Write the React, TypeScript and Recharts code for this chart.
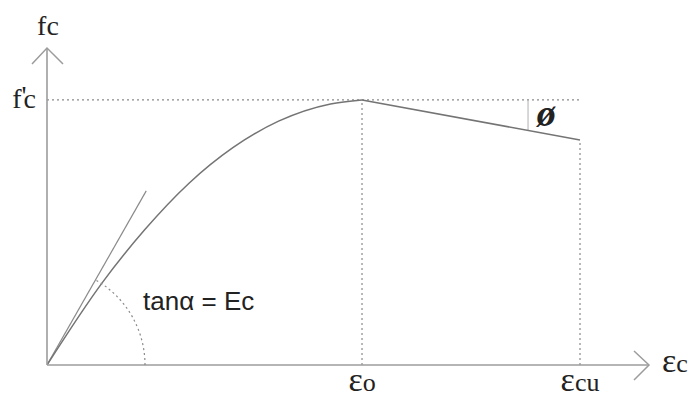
import React from 'react';
import { LineChart, Line, XAxis, YAxis, ReferenceLine, ReferenceDot } from 'recharts';

// concrete stress-strain curve, strain in per mille, stress normalised to f'c
const riseStrain = [0, 0.35, 0.62, 0.9, 1.18, 1.47, 1.8, 2.0];
const riseStress = [0, 0.31, 0.51, 0.685, 0.82, 0.92, 0.985, 1.0];
const fallStrain = [2.0, 3.384];
const fallStress = [1.0, 0.849];
const tangentStrain = [0, 0.63];
const tangentStress = [0, 0.657];

const strainTicks = [2.0, 3.384];
const strainTickLabels = ['o', 'cu'];
const stressTicks = [1];

const X_MAX = 3.822;
const Y_MAX = 1.196;

const SERIF = "'Liberation Serif', 'DejaVu Serif', serif";
const SANS = "'Liberation Sans', Arial, sans-serif";
const AXIS = '#9c9c9c';
const CURVE = '#747474';
const DOTS = '#8a8a8a';
const INK = '#222';

const toPoints = (xs: number[], ys: number[]) => xs.map((x, i) => ({ x, y: ys[i] }));

const riseData = toPoints(riseStrain, riseStress);
const fallData = toPoints(fallStrain, fallStress);
const tangentData = toPoints(tangentStrain, tangentStress);

const StrainTick = (props: any) => {
  const { x, y, payload } = props;
  const i = strainTicks.indexOf(payload.value);
  return (
    <text x={x} y={y + 26} textAnchor="middle" fontFamily={SERIF} fontSize={26} fill={INK}>
      <tspan fontSize={34}>ε</tspan>
      <tspan>{strainTickLabels[i]}</tspan>
    </text>
  );
};

const StressTick = (props: any) => {
  const { x, y } = props;
  return (
    <text x={x - 11} y={y + 8} textAnchor="end" fontFamily={SERIF} fontSize={28} fill={INK}>
      f<tspan dy={-3}>'</tspan>
      <tspan dx={-3} dy={3}>c</tspan>
    </text>
  );
};

// arrow head on the strain axis + its title
const XArrow = (props: any) => {
  const { cx, cy } = props;
  return (
    <g>
      <polyline
        points={`${cx - 15},${cy - 14} ${cx},${cy} ${cx - 15},${cy + 15}`}
        fill="none"
        stroke={AXIS}
        strokeWidth={1.5}
      />
      <text x={cx + 13} y={cy + 7} fontFamily={SERIF} fontSize={26} fill={INK}>
        <tspan fontSize={34}>ε</tspan>
        <tspan>c</tspan>
      </text>
    </g>
  );
};

// arrow head on the stress axis + its title
const YArrow = (props: any) => {
  const { cx, cy } = props;
  return (
    <g>
      <polyline
        points={`${cx - 15},${cy + 16} ${cx},${cy} ${cx + 16},${cy + 16}`}
        fill="none"
        stroke={AXIS}
        strokeWidth={1.5}
      />
      <text x={cx + 1} y={cy - 13} textAnchor="middle" fontFamily={SERIF} fontSize={28} fill={INK}>
        fc
      </text>
    </g>
  );
};

// dotted arc marking the initial tangent angle
const AngleArc = (props: any) => {
  const { cx, cy } = props;
  const r = 98;
  const a = (60 * Math.PI) / 180;
  return (
    <path
      d={`M ${cx + r} ${cy} A ${r} ${r} 0 0 0 ${cx + r * Math.cos(a)} ${cy - r * Math.sin(a)}`}
      fill="none"
      stroke={DOTS}
      strokeWidth={1.2}
      strokeDasharray="2 3"
    />
  );
};

const TextMark = (text: string, size: number, family: string, italic = false, weight = 'normal') => (props: any) => (
  <text
    x={props.cx}
    y={props.cy}
    fontFamily={family}
    fontSize={size}
    fontStyle={italic ? 'italic' : 'normal'}
    fontWeight={weight}
    fill={INK}
  >
    {text}
  </text>
);

const App = () => {
  return (
    <div style={{ position: 'absolute', left: 0, top: 0, width: 694, height: 396, background: '#fff' }}>
      <LineChart width={694} height={396} margin={{ top: 48, right: 45, bottom: 30, left: 46 }}>
        <XAxis
          type="number"
          dataKey="x"
          domain={[0, X_MAX]}
          ticks={strainTicks}
          height={1}
          tickSize={0}
          tickMargin={0}
          tickLine={false}
          tick={<StrainTick />}
          axisLine={{ stroke: AXIS, strokeWidth: 1.6 }}
          allowDataOverflow
        />
        <YAxis
          type="number"
          dataKey="y"
          domain={[0, Y_MAX]}
          ticks={stressTicks}
          width={1}
          tickSize={0}
          tickMargin={0}
          tickLine={false}
          tick={<StressTick />}
          axisLine={{ stroke: AXIS, strokeWidth: 1.6 }}
          allowDataOverflow
        />

        <ReferenceLine
          segment={[{ x: 0, y: 1 }, { x: 3.384, y: 1 }]}
          stroke={DOTS}
          strokeWidth={1.2}
          strokeDasharray="2 3"
          ifOverflow="visible"
        />
        <ReferenceLine
          segment={[{ x: 2.0, y: 0 }, { x: 2.0, y: 1 }]}
          stroke={DOTS}
          strokeWidth={1.2}
          strokeDasharray="2 3"
          ifOverflow="visible"
        />
        <ReferenceLine
          segment={[{ x: 3.384, y: 0 }, { x: 3.384, y: 0.849 }]}
          stroke={DOTS}
          strokeWidth={1.2}
          strokeDasharray="2 3"
          ifOverflow="visible"
        />
        <ReferenceLine
          segment={[{ x: 3.054, y: 1 }, { x: 3.054, y: 0.885 }]}
          stroke="#b0b0b0"
          strokeWidth={1}
          ifOverflow="visible"
        />

        <Line data={tangentData} dataKey="y" type="linear" stroke="#8a8a8a" strokeWidth={1.2} dot={false} isAnimationActive={false} />
        <Line data={riseData} dataKey="y" type="monotone" stroke={CURVE} strokeWidth={1.5} dot={false} isAnimationActive={false} />
        <Line data={fallData} dataKey="y" type="linear" stroke={CURVE} strokeWidth={1.5} dot={false} isAnimationActive={false} />

        <ReferenceDot x={0} y={0} r={1} ifOverflow="visible" shape={<AngleArc />} />
        <ReferenceDot x={X_MAX} y={0} r={1} ifOverflow="visible" shape={<XArrow />} />
        <ReferenceDot x={0} y={Y_MAX} r={1} ifOverflow="visible" shape={<YArrow />} />
        <ReferenceDot x={0.61} y={0.2075} r={1} ifOverflow="visible" shape={TextMark('tanα = Ec', 26, SANS)} />
        <ReferenceDot x={3.11} y={0.9} r={1} ifOverflow="visible" shape={TextMark('ø', 38, SERIF, true, 'bold')} />
      </LineChart>
    </div>
  );
};

export default App;
